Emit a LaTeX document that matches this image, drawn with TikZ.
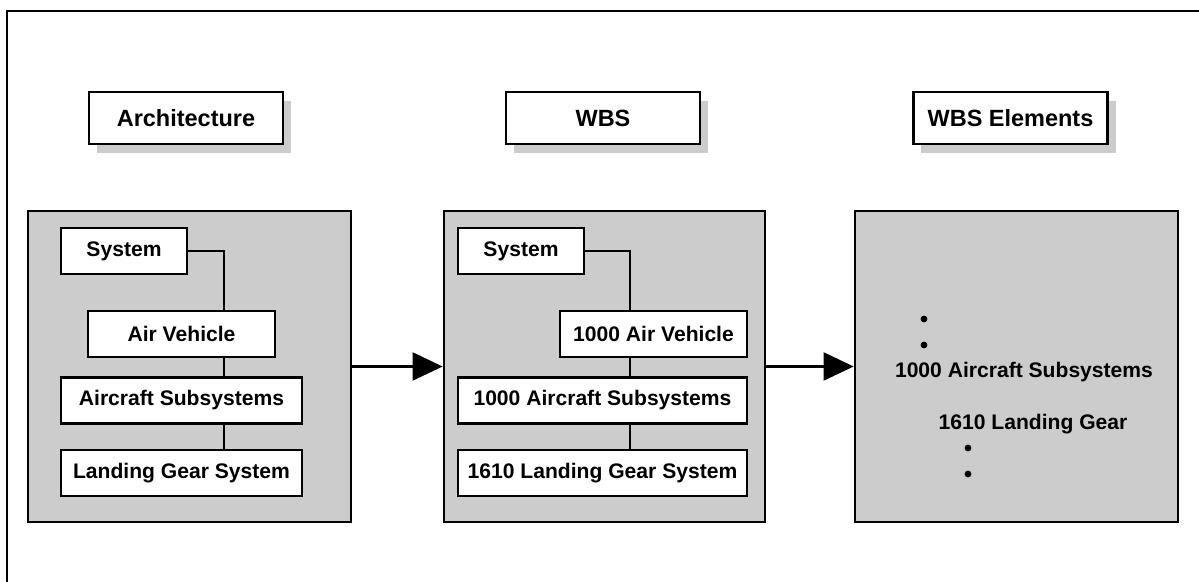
\documentclass[tikz,border=0pt]{standalone}
\usepackage{fontspec}
\setmainfont{Liberation Sans}
\usepackage{xcolor}
\usepackage{tikz}
\usetikzlibrary{arrows.meta, positioning, calc, shadows}
\definecolor{panelgray}{HTML}{CCCCCC}

\begin{document}
\begin{tikzpicture}[
        x=0.025cm, y=-0.025cm,
        title/.style={draw, rectangle, fill=white, line width=1.9pt, align=center,
            font=\fontsize{16.7}{20}\selectfont\bfseries, minimum width=4.85cm, minimum height=1.3cm,
            drop shadow={shadow xshift=0.2cm, shadow yshift=-0.225cm, fill=panelgray, opacity=1}},
        panel/.style={draw, rectangle, fill=panelgray, line width=1.9pt, minimum height=7.775cm},
        box/.style={draw, rectangle, fill=white, line width=1.7pt, inner sep=2pt,
            font=\fontsize{15}{18}\selectfont\bfseries, minimum height=1.15cm},
        elem/.style={font=\fontsize{15}{18}\selectfont\bfseries, inner sep=0pt},
        dot/.style={circle, fill=black, inner sep=0pt, minimum size=0.17cm},
        link/.style={line width=1.4pt},
        arrow/.style={-{Triangle[length=0.75cm, width=0.7cm]}, line width=1.5pt}
    ]
        \useasboundingbox (0,0) rectangle (1199,582);
        \draw[line width=1.9pt] (7,582) |- (1199,11);

        % Titles
        \node[title] (arch_title) at (186, 118) {Architecture};
        \node[title] (wbs_title) at (603, 118) {WBS};
        \node[title] (elem_title) at (1010.5, 118) {WBS Elements};

        % Architecture side
        \node[panel, minimum width=8.075cm] (arch) at (189.5, 366.5) {};
        \node[box, minimum width=3.15cm] (sys1) at (124, 251) {System};
        \node[box, minimum width=4.675cm] (av1) at (181.5, 334) {Air Vehicle};
        \node[box, minimum width=6.025cm] (acs1) at (181.5, 400.5) {Aircraft Subsystems};
        \node[box, minimum width=6.025cm] (lg1) at (181.5, 473) {Landing Gear System};

        \coordinate (bus1) at (224, 251);
        \draw[link] (sys1.east) -| (bus1 |- av1.north);
        \draw[link] (bus1 |- av1.south) -- (bus1 |- acs1.north);
        \draw[link] (bus1 |- acs1.south) -- (bus1 |- lg1.north);

        % WBS side
        \node[panel, minimum width=8.025cm] (wbs) at (604.5, 366.5) {};
        \node[box, minimum width=3.15cm] (sys2) at (521, 251) {System};
        \node[box, minimum width=4.675cm] (av2) at (653.5, 334) {1000 Air Vehicle};
        \node[box, minimum width=7.225cm] (acs2) at (602.5, 400.5) {1000 Aircraft Subsystems};
        \node[box, minimum width=7.225cm] (lg2) at (602.5, 473) {1610 Landing Gear System};

        \coordinate (bus2) at (630, 251);
        \draw[link] (sys2.east) -| (bus2 |- av2.north);
        \draw[link] (bus2 |- av2.south) -- (bus2 |- acs2.north);
        \draw[link] (bus2 |- acs2.south) -- (bus2 |- lg2.north);

        % WBS elements side
        \node[panel, minimum width=8.075cm] (elem) at (1016.5, 366.5) {};
        \node[dot] (d1) at (924, 319) {};
        \node[dot] (d2) at (924, 345) {};
        \node[elem] (acs3) at (1024, 372) {1000 Aircraft Subsystems};
        \node[elem] (lg3) at (1033, 424) {1610 Landing Gear};
        \node[dot] (d3) at (968, 448) {};
        \node[dot] (d4) at (968, 474) {};

        \draw[arrow] (arch.east) -- (wbs.west);
        \draw[arrow] (wbs.east) -- (elem.west);
    \end{tikzpicture}
\end{document}
